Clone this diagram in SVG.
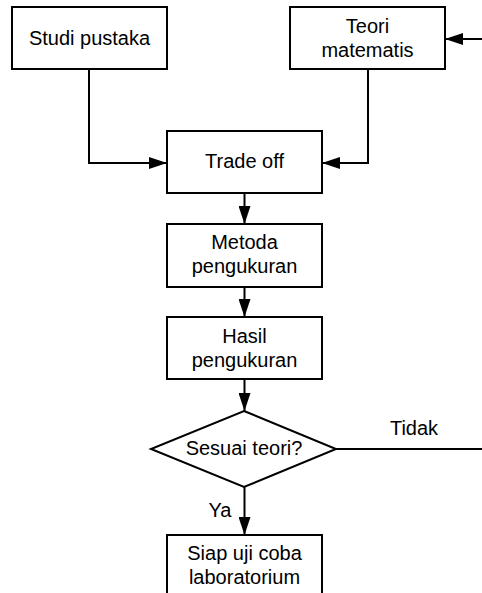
<svg xmlns="http://www.w3.org/2000/svg" width="482" height="593" viewBox="0 0 482 593">
<style>
.box{fill:#fff;stroke:#000;stroke-width:2}
.t{font-family:"Liberation Sans",Arial,sans-serif;font-size:20px;fill:#000;text-anchor:middle}
.c{fill:none;stroke:#000;stroke-width:2}
</style>
<defs>
<marker id="ah" viewBox="0 0 18 12" refX="18" refY="6" markerWidth="18" markerHeight="12" markerUnits="userSpaceOnUse" orient="auto">
<path d="M0,0 L18,6 L0,12 Z" fill="#000"/>
</marker>
</defs>
<rect width="482" height="593" fill="#fff"/>
<g id="connectors">
<path class="c" d="M89,69 V163 H167" marker-end="url(#ah)"/>
<path class="c" d="M368,69 V163 H322" marker-end="url(#ah)"/>
<path class="c" d="M482,39 H445" marker-end="url(#ah)"/>
<path class="c" d="M244.5,193 V224" marker-end="url(#ah)"/>
<path class="c" d="M244.5,287 V317" marker-end="url(#ah)"/>
<path class="c" d="M244.5,379 V411" marker-end="url(#ah)"/>
<path class="c" d="M244.5,487 V535" marker-end="url(#ah)"/>
<path class="c" d="M336,449 H482"/>
<text class="t" x="414" y="435">Tidak</text>
<text class="t" x="220" y="517">Ya</text>
</g>
<g id="studi">
<rect class="box" x="12" y="7" width="155" height="62"/>
<text class="t" x="89.5" y="45">Studi pustaka</text>
</g>
<g id="teori">
<rect class="box" x="290" y="7" width="155" height="62"/>
<text class="t" x="367.5" y="33">Teori</text>
<text class="t" x="367.5" y="57">matematis</text>
</g>
<g id="tradeoff">
<rect class="box" x="167" y="131" width="155" height="62"/>
<text class="t" x="244.5" y="168">Trade off</text>
</g>
<g id="metoda">
<rect class="box" x="167" y="224" width="155" height="63"/>
<text class="t" x="244.5" y="249">Metoda</text>
<text class="t" x="244.5" y="273">pengukuran</text>
</g>
<g id="hasil">
<rect class="box" x="167" y="317" width="155" height="62"/>
<text class="t" x="244.5" y="343">Hasil</text>
<text class="t" x="244.5" y="367">pengukuran</text>
</g>
<g id="sesuai">
<path class="box" d="M244,411 L336,449 L244,487 L151,449 Z"/>
<text class="t" x="244" y="455">Sesuai teori?</text>
</g>
<g id="siap">
<rect class="box" x="167" y="535" width="155" height="70"/>
<text class="t" x="244.5" y="560">Siap uji coba</text>
<text class="t" x="244.5" y="584">laboratorium</text>
</g>
</svg>
